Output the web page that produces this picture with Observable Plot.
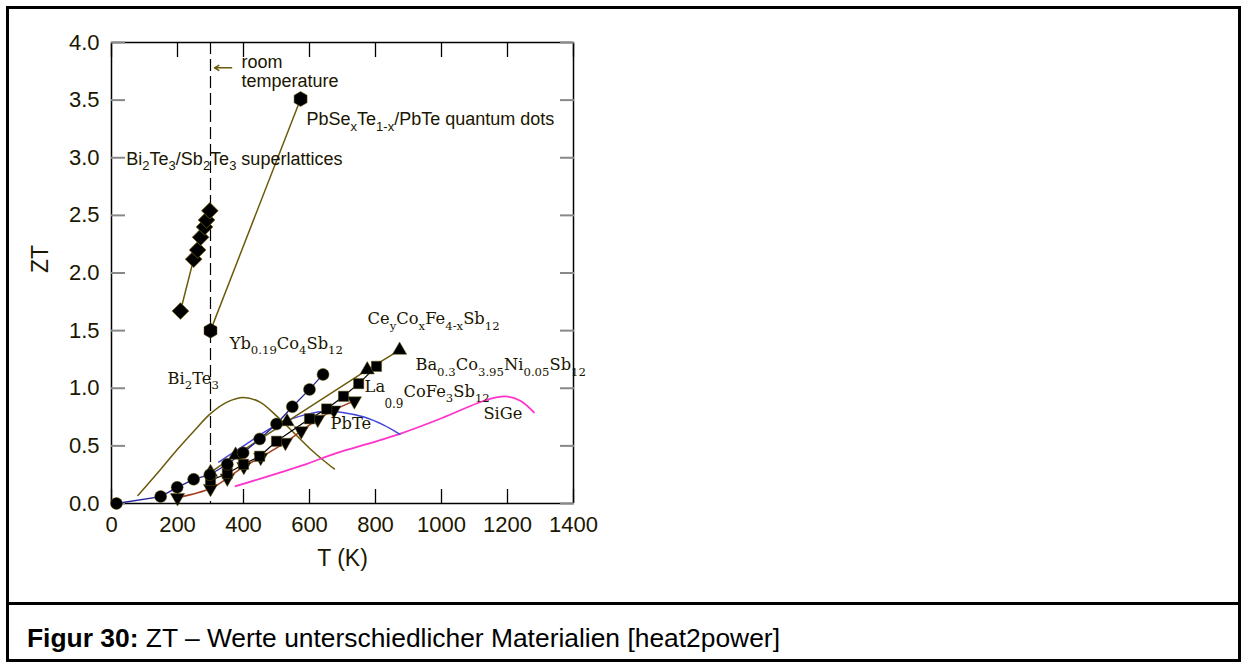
<!DOCTYPE html>
<html><head><meta charset="utf-8">
<script src="https://cdn.jsdelivr.net/npm/d3@7"></script>
<script src="https://cdn.jsdelivr.net/npm/@observablehq/plot@0.6"></script>
<style>
body{margin:0;background:#fff;font-family:"Liberation Sans",Arial,sans-serif;}
#page{position:relative;width:1245px;height:668px;overflow:hidden;background:#fff;}
#box{position:absolute;left:6px;top:6px;width:1229px;height:650px;border:3px solid #000;}
#divider{position:absolute;left:6px;top:602px;width:1235px;height:3px;background:#000;}
#chart{position:absolute;left:0;top:0;}
#caption{position:absolute;left:27px;top:622px;font-size:26.4px;line-height:32px;color:#000;white-space:nowrap;}
</style></head>
<body>
<div id="page">
  <div id="box"></div>
  <div id="divider"></div>
  <div id="chart"></div>
  <div id="caption"><b>Figur 30:</b> ZT – Werte unterschiedlicher Materialien [heat2power]</div>
</div>
<script>
// ---- data ----
const xTicks = [0, 200, 400, 600, 800, 1000, 1200, 1400];
const yTicks = [0, 0.5, 1, 1.5, 2, 2.5, 3, 3.5, 4];
const xDomain = [0, 1400];
const yDomain = [0, 4];
const roomT = [300];

const superT  = [209, 249, 261, 270, 282, 288, 298];
const superZT = [1.67, 2.12, 2.20, 2.31, 2.40, 2.46, 2.54];

const qdT  = [300, 573];
const qdZT = [1.50, 3.51];

const ybT  = [15, 149, 199, 249, 298, 351, 399, 449, 500, 548, 600, 641];
const ybZT = [0.00, 0.06, 0.14, 0.21, 0.25, 0.34, 0.44, 0.56, 0.69, 0.84, 0.99, 1.12];

const ceT  = [300, 376, 532, 775, 873];
const ceZT = [0.27, 0.42, 0.71, 1.16, 1.33];

const baT  = [300, 351, 400, 449, 500, 600, 652, 703, 749, 803];
const baZT = [0.20, 0.26, 0.34, 0.41, 0.54, 0.735, 0.82, 0.93, 1.04, 1.19];

const laT  = [200, 300, 351, 401, 452, 527, 575, 625, 674, 736];
const laZT = [0.05, 0.13, 0.22, 0.32, 0.40, 0.53, 0.63, 0.73, 0.81, 0.89];

const pbteT  = [325, 400, 500, 600, 650, 700, 765, 825, 874];
const pbteZT = [0.36, 0.50, 0.68, 0.78, 0.80, 0.79, 0.75, 0.68, 0.60];

const sigeT  = [376, 588, 664, 874, 1000, 1108, 1150, 1194, 1240, 1280];
const sigeZT = [0.15, 0.34, 0.42, 0.605, 0.74, 0.87, 0.91, 0.93, 0.89, 0.79];

const biT  = [80, 150, 200, 250, 300, 350, 400, 450, 500, 550, 600, 640, 675];
const biZT = [0.07, 0.30, 0.47, 0.63, 0.78, 0.88, 0.92, 0.88, 0.76, 0.62, 0.48, 0.38, 0.30];

const sansLabels = ["room", "temperature", "Bi_{2}Te_{3}/Sb_{2}Te_{3} superlattices", "PbSe_{x}Te_{1-x}/PbTe quantum dots"];
const sansT  = [394, 394, 45, 591];
const sansZT = [3.83, 3.66, 2.99, 3.33];

const serifLabels = ["Yb_{0.19}Co_{4}Sb_{12}", "Bi_{2}Te_{3}", "Ce_{y}Co_{x}Fe_{4-x}Sb_{12}", "Ba_{0.3}Co_{3.95}Ni_{0.05}Sb_{12}", "La", "CoFe_{3}Sb_{12}", "SiGe", "PbTe"];
const serifT  = [358, 170, 776, 921, 767, 885, 1127, 664];
const serifZT = [1.39, 1.08, 1.60, 1.20, 1.01, 0.97, 0.78, 0.69];

const smallLabels = ["0.9"];
const smallT  = [827];
const smallZT = [0.86];

const arrowT = [364, 312];
const arrowZT = [3.78, 3.78];

// ---- build ----
const pts = (T, Z) => T.map((t, i) => ({T: t, ZT: Z[i]}));
const labs = (L, T, Z) => L.map((s, i) => ({s, T: T[i], ZT: Z[i]}));

const olive = "#6b5a0a";
const ink = "#1a1600";
const W = 620, H = 600, mL = 111, mR = 47, mT = 42, mB = 97;
const tickPx = 14;

const chart = Plot.plot({
  width: W, height: H,
  marginLeft: mL, marginRight: mR, marginTop: mT, marginBottom: mB,
  style: {fontFamily: "'Liberation Sans', Arial, sans-serif", background: "transparent"},
  x: {domain: xDomain},
  y: {domain: yDomain},
  marks: [
    // frame drawn as four rules
    Plot.ruleX(xDomain, {stroke: "#000", strokeWidth: 1.5}),
    Plot.ruleY(yDomain, {stroke: "#000", strokeWidth: 1.5}),
    // inward ticks on all four sides (negative tick size points into the frame)
    Plot.axisX({anchor: "bottom", ticks: xTicks, tickSize: -tickPx, tickPadding: 13 + tickPx, fontSize: 22, fill: ink, stroke: "#000", strokeWidth: 1.3, label: null, tickFormat: d3.format("d")}),
    Plot.axisX({anchor: "top", ticks: xTicks, tickSize: -tickPx, stroke: "#000", strokeWidth: 1.3, label: null, tickFormat: () => ""}),
    Plot.axisY({anchor: "left", ticks: yTicks, tickSize: -tickPx, tickPadding: 12 + tickPx, fontSize: 22, fill: ink, stroke: "#888", strokeWidth: 2, label: null, tickFormat: d3.format(".1f")}),
    Plot.axisY({anchor: "right", ticks: yTicks, tickSize: -tickPx, stroke: "#888", strokeWidth: 2, label: null, tickFormat: () => ""}),
    Plot.text(["ZT"], {frameAnchor: "left", rotate: -90, dx: -71, fontSize: 23, fill: ink}),
    Plot.text(["T (K)"], {frameAnchor: "bottom", dy: 62, fontSize: 23, fill: ink}),
    // room temperature
    Plot.ruleX(roomT, {stroke: "#000", strokeWidth: 1.2, strokeDasharray: "12,5"}),
    Plot.arrow([0], {x1: () => arrowT[0], y1: () => arrowZT[0], x2: () => arrowT[1], y2: () => arrowZT[1], stroke: olive, strokeWidth: 1.5, headLength: 5}),
    // curves
    Plot.line(pts(biT, biZT), {x: "T", y: "ZT", stroke: olive, strokeWidth: 1.5, curve: "catmull-rom"}),
    Plot.line(pts(sigeT, sigeZT), {x: "T", y: "ZT", stroke: "#ff33cc", strokeWidth: 1.8, curve: "catmull-rom"}),
    Plot.line(pts(pbteT, pbteZT), {x: "T", y: "ZT", stroke: "#4444dd", strokeWidth: 1.5, curve: "catmull-rom"}),
    Plot.line(pts(laT, laZT), {x: "T", y: "ZT", stroke: "#a33e1c", strokeWidth: 1.5, curve: "catmull-rom"}),
    Plot.line(pts(baT, baZT), {x: "T", y: "ZT", stroke: "#000", strokeWidth: 1.2}),
    Plot.line(pts(ceT, ceZT), {x: "T", y: "ZT", stroke: olive, strokeWidth: 1.5}),
    Plot.line(pts(ybT, ybZT), {x: "T", y: "ZT", stroke: "#22229a", strokeWidth: 1.3}),
    Plot.line(pts(qdT, qdZT), {x: "T", y: "ZT", stroke: olive, strokeWidth: 1.5}),
    Plot.line(pts(superT, superZT), {x: "T", y: "ZT", stroke: olive, strokeWidth: 1.5}),
    // markers
    Plot.dot(pts(laT, laZT), {x: "T", y: "ZT", symbol: "triangle", rotate: 180, r: 5.3, fill: "#000", stroke: olive, strokeWidth: 0.5}),
    Plot.dot(pts(baT, baZT), {x: "T", y: "ZT", symbol: "square", r: 5.8, fill: "#000", stroke: olive, strokeWidth: 0.5}),
    Plot.dot(pts(ceT, ceZT), {x: "T", y: "ZT", symbol: "triangle", r: 5.3, fill: "#000", stroke: olive, strokeWidth: 0.5}),
    Plot.dot(pts(ybT, ybZT), {x: "T", y: "ZT", symbol: "circle", r: 6, fill: "#000", stroke: olive, strokeWidth: 0.5}),
    Plot.dot(pts(qdT, qdZT), {x: "T", y: "ZT", symbol: "hexagon", r: 6.5, fill: "#000", stroke: olive, strokeWidth: 0.5}),
    Plot.dot(pts(superT, superZT), {x: "T", y: "ZT", symbol: "diamond2", r: 7.5, fill: "#000", stroke: olive, strokeWidth: 0.8}),
    // labels
    Plot.text(labs(sansLabels, sansT, sansZT), {x: "T", y: "ZT", text: "s", textAnchor: "start", lineAnchor: "middle", fontSize: 18, fill: ink}),
    Plot.text(labs(serifLabels, serifT, serifZT), {x: "T", y: "ZT", text: "s", textAnchor: "start", lineAnchor: "middle", fontSize: 16.3, fill: ink, fontFamily: "'DejaVu Serif', serif"}),
    Plot.text(labs(smallLabels, smallT, smallZT), {x: "T", y: "ZT", text: "s", textAnchor: "start", lineAnchor: "middle", fontSize: 12, fill: ink, fontFamily: "'DejaVu Serif', serif"})
  ]
});
document.getElementById("chart").appendChild(chart);

// subscripts: turn "_{...}" markup into tspans
chart.querySelectorAll("text").forEach(t => {
  const s = t.textContent;
  if (!s.includes("_{")) return;
  const fs = parseFloat(getComputedStyle(t).fontSize) || 16;
  const shift = fs * 0.32;
  const parts = s.split(/(_\{[^}]*\})/).filter(p => p.length);
  while (t.firstChild) t.removeChild(t.firstChild);
  let low = false;
  parts.forEach(p => {
    const ts = document.createElementNS("http://www.w3.org/2000/svg", "tspan");
    if (p.startsWith("_{")) {
      ts.textContent = p.slice(2, -1);
      ts.setAttribute("font-size", (fs * 0.72).toFixed(1));
      if (!low) ts.setAttribute("dy", shift.toFixed(1));
      low = true;
    } else {
      ts.textContent = p;
      if (low) ts.setAttribute("dy", (-shift).toFixed(1));
      low = false;
    }
    t.appendChild(ts);
  });
});
</script>
</body></html>
